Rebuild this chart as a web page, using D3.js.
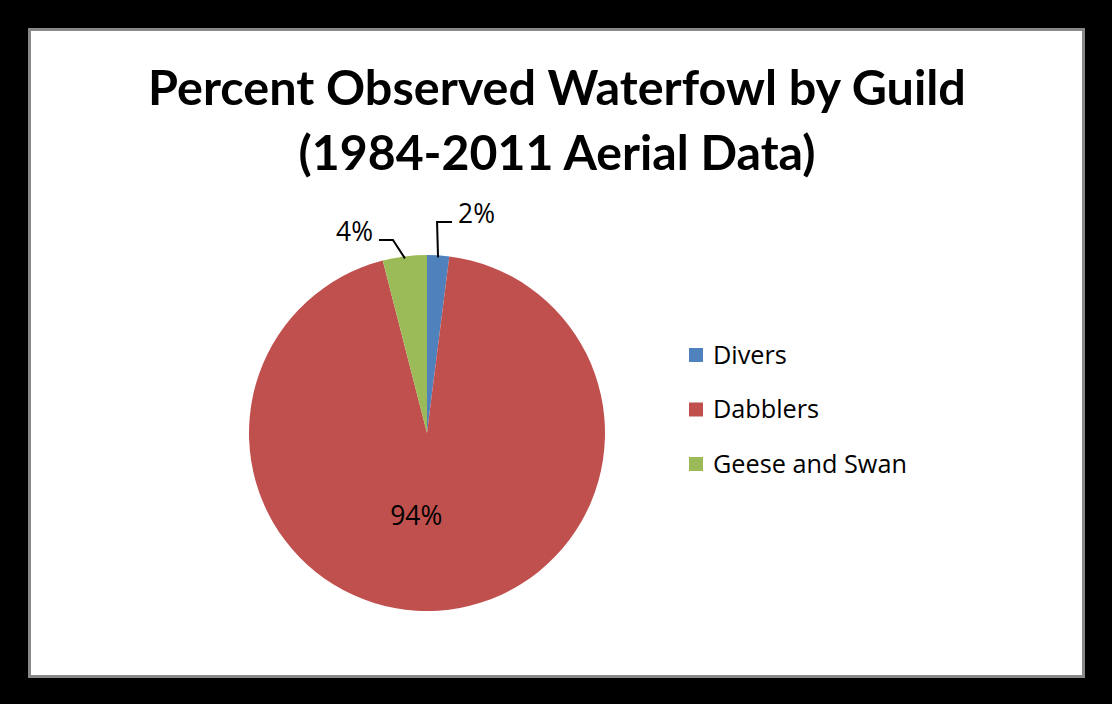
<!DOCTYPE html>
<html>
<head>
<meta charset="utf-8">
<script src="https://cdn.jsdelivr.net/npm/d3@7"></script>
<style>
  html, body { margin: 0; padding: 0; background: #000; }
  svg { display: block; }
  text { font-family: "Open Sans", "Lato", sans-serif; fill: #000; }
  .title { font-family: "Lato", "Open Sans", sans-serif; font-weight: bold; }
</style>
</head>
<body>
<div id="chart"></div>
<script>
const categories = ["Divers", "Dabblers", "Geese and Swan"];
const percents = [2, 94, 4];
const colors = ["#4F81BD", "#C0504D", "#9BBB59"];
const titleLines = ["Percent Observed Waterfowl by Guild", "(1984-2011 Aerial Data)"];

const W = 1112, H = 704;

const svg = d3.select("#chart")
  .append("svg")
  .attr("width", W)
  .attr("height", H);

// black frame + chart area
svg.append("rect").attr("width", W).attr("height", H).attr("fill", "#000");
svg.append("rect")
  .attr("x", 29.5).attr("y", 29.5)
  .attr("width", 1054).attr("height", 647)
  .attr("fill", "#fff")
  .attr("stroke", "#888")
  .attr("stroke-width", 3);

// scale a text's font so it spans a given width
function fitText(el, size, target) {
  el.style("font-size", size + "px");
  const w = el.node().getComputedTextLength();
  const s = size * target / w;
  el.style("font-size", s + "px");
  return s;
}

// title
const titleWidths = [818, 517];
const titleBase = [105, 170];
titleLines.forEach((t, i) => {
  const el = svg.append("text")
    .attr("class", "title")
    .attr("x", 557)
    .attr("y", titleBase[i])
    .attr("text-anchor", "middle")
    .text(t);
  fitText(el, 46, titleWidths[i]);
});

// pie
const cx = 427, cy = 433, r = 178;
const data = categories.map((c, i) => ({ name: c, value: percents[i], color: colors[i] }));

const pie = d3.pie().value(d => d.value).sort(null);
const arc = d3.arc().innerRadius(0).outerRadius(r);
const arcs = pie(data);

const g = svg.append("g").attr("transform", `translate(${cx},${cy})`);

g.selectAll("path.slice")
  .data(arcs)
  .join("path")
  .attr("class", "slice")
  .attr("d", arc)
  .attr("fill", d => d.data.color);

// measure label size from the 94% label width
const probe = svg.append("text").text("94%");
const labelSize = fitText(probe, 20, 52);
probe.remove();

// inside label for large slice
arcs.filter(d => d.data.value > 50).forEach(d => {
  const [x, y] = d3.arc().innerRadius(0).outerRadius(r * 0.93).centroid(d);
  g.append("text")
    .attr("x", x)
    .attr("y", y)
    .attr("dx", -16)
    .attr("text-anchor", "middle")
    .attr("dy", "0.35em")
    .style("font-size", labelSize + "px")
    .text(d.data.value + "%");
});

// outside labels with leader lines for small slices
arcs.filter(d => d.data.value <= 50).forEach(d => {
  const mid = (d.startAngle + d.endAngle) / 2;
  const side = Math.sin(mid) >= 0 ? 1 : -1;
  const p0 = [Math.sin(mid) * (r - 2), -Math.cos(mid) * (r - 2)];
  let pts;
  if (side > 0) {
    const p1 = [p0[0] - 1, -r - 33];
    const p2 = [p1[0] + 15, p1[1]];
    pts = [p0, p1, p2];
  } else {
    const p1 = [p0[0] - 12, -r - 15];
    const p2 = [p1[0] - 14, p1[1]];
    pts = [p0, p1, p2];
  }
  g.append("path")
    .attr("d", d3.line()(pts))
    .attr("fill", "none")
    .attr("stroke", "#000")
    .attr("stroke-width", 2);
  const end = pts[pts.length - 1];
  g.append("text")
    .attr("x", end[0] + side * 6)
    .attr("y", end[1] + 1)
    .attr("text-anchor", side > 0 ? "start" : "end")
    .style("font-size", labelSize + "px")
    .text(d.data.value + "%");
});

// legend
const legend = svg.append("g").attr("transform", "translate(689,355)");
const rowH = 54.5;
const lprobe = svg.append("text").text("Geese and Swan");
const legendSize = fitText(lprobe, 20, 194);
lprobe.remove();
data.forEach((d, i) => {
  const row = legend.append("g").attr("transform", `translate(0,${i * rowH})`);
  row.append("rect")
    .attr("x", 0).attr("y", -7)
    .attr("width", 14).attr("height", 14)
    .attr("fill", d.color);
  row.append("text")
    .attr("x", 24)
    .attr("y", 0)
    .attr("dy", "0.35em")
    .style("font-size", legendSize + "px")
    .text(d.name);
});
</script>
</body>
</html>
